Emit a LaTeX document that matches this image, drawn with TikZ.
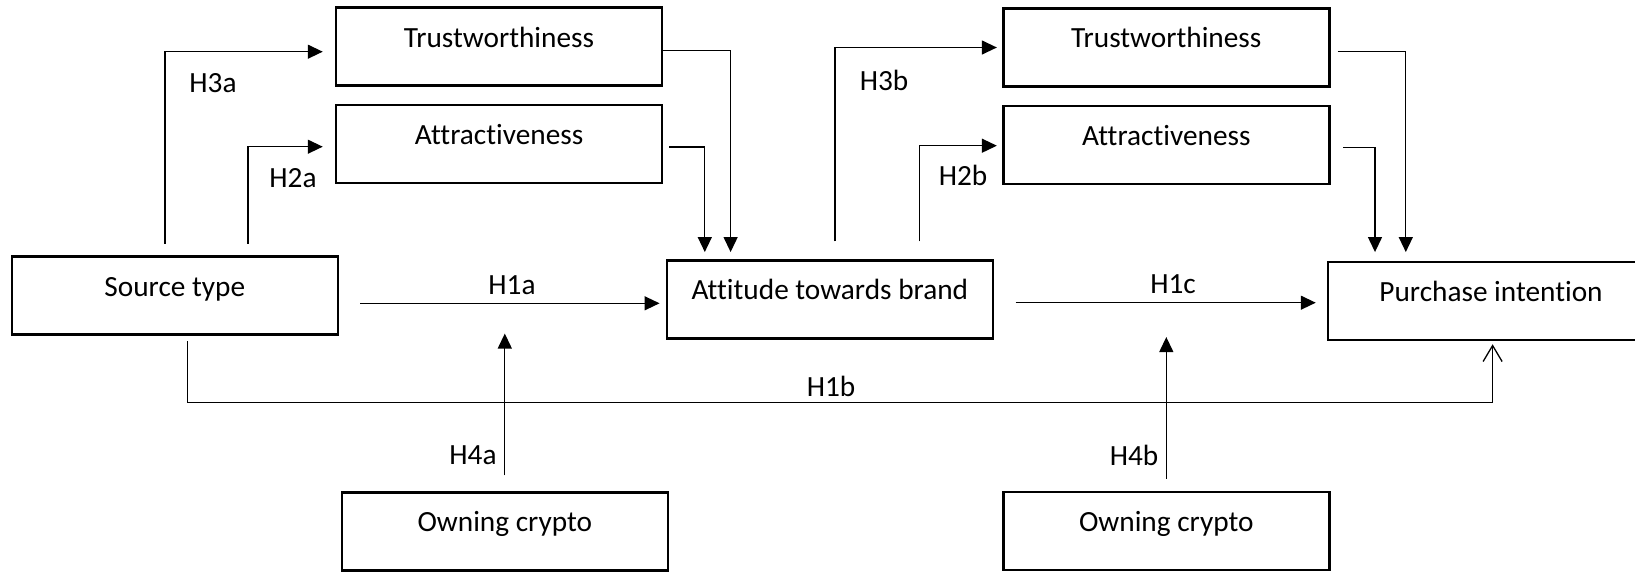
\documentclass[tikz,border=0pt]{standalone}
\usepackage{fontspec}
\setmainfont{Carlito}[Ligatures={NoCommon,NoContextual}]
\usetikzlibrary{arrows.meta}
\tikzset{
  box/.style={draw, line width=2.5pt, minimum width=326pt, minimum height=78pt,
    inner sep=0pt, text height=39.4pt, text depth=38.6pt,
    font=\fontsize{29.3}{35}\selectfont},
  hyp/.style={inner sep=0pt, font=\fontsize{29.3}{35}\selectfont},
  arr/.style={line width=1.3pt, -{Triangle[length=15pt,width=14pt]}},
  openarr/.style={line width=1.3pt, -{Straight Barb[length=16pt,width=19pt]}}
}
\begin{document}
\begin{tikzpicture}[x=1pt,y=-1pt]
                \useasboundingbox (0,0) rectangle (1635,571);
                %riquadri
                \node[box] (source) at (174.8,295.7) {Source type};
                \node[box] (trustA) at (499,46.7) {Trustworthiness};
                \node[box] (attrA) at (499,144) {Attractiveness};
                \node[box] (attitude) at (829.8,299.3) {Attitude towards brand};
                \node[box] (trustB) at (1166.3,47.5) {Trustworthiness};
                \node[box] (attrB) at (1166.3,145) {Attractiveness};
                \node[box] (purchase) at (1491,301) {Purchase intention};
                \node[box] (ownA) at (504.8,531.5) {Owning crypto};
                \node[box] (ownB) at (1166.3,531) {Owning crypto};
                %frecce a sinistra
                \draw[arr] ([xshift=-9.8pt,yshift=11.7pt]source.north) |- ([xshift=-12pt,yshift=-5pt]trustA.west);
                \draw[arr] ([xshift=73.2pt,yshift=11.7pt]source.north) |- ([xshift=-12pt,yshift=-2.7pt]attrA.west);
                \draw[arr] ([yshift=-4pt]trustA.east) -| ([xshift=-99.2pt,yshift=7pt]attitude.north);
                \draw[arr] ([xshift=6pt,yshift=-3pt]attrA.east) -| ([xshift=-125pt,yshift=7pt]attitude.north);
                \draw[arr] ([xshift=21pt,yshift=-7.6pt]source.east) -- ([xshift=-6pt,yshift=-4pt]attitude.west);
                \draw[arr] ([yshift=16pt]ownA.north) -- ++(0,-141.7);
                %frecce a destra
                \draw[arr] ([xshift=5.2pt,yshift=17.6pt]attitude.north) |- ([xshift=-5.2pt]trustB.west);
                \draw[arr] ([xshift=89.6pt,yshift=17.6pt]attitude.north) |- ([xshift=-5.2pt,yshift=-0.7pt]attrB.west);
                \draw[arr] ([xshift=7pt,yshift=-4pt]trustB.east) -| ([xshift=-85.2pt,yshift=8.7pt]purchase.north);
                \draw[arr] ([xshift=12.5pt,yshift=-2.3pt]attrB.east) -| ([xshift=-116pt,yshift=8.7pt]purchase.north);
                \draw[arr] ([xshift=21.5pt,yshift=-3.4pt]attitude.east) -- ([xshift=-11pt,yshift=-1.7pt]purchase.west);
                \draw[arr] ([yshift=12pt]ownB.north) -- ++(0,-141.7);
                %effetto diretto
                \draw[openarr] ([xshift=13pt,yshift=-5.3pt]source.south) -- ++(0,61) -| ([xshift=1.6pt,yshift=-3pt]purchase.south);
                %ipotesi
                \node[hyp] (h3a) at (213,83) {H3a};
                \node[hyp] (h2a) at (293,178) {H2a};
                \node[hyp] (h1a) at (512,285) {H1a};
                \node[hyp] (h1b) at (831,386) {H1b};
                \node[hyp] (h4a) at (473,455) {H4a};
                \node[hyp] (h3b) at (884,80) {H3b};
                \node[hyp] (h2b) at (963,175) {H2b};
                \node[hyp] (h1c) at (1173,284) {H1c};
                \node[hyp] (h4b) at (1134,455) {H4b};
\end{tikzpicture}
\end{document}
